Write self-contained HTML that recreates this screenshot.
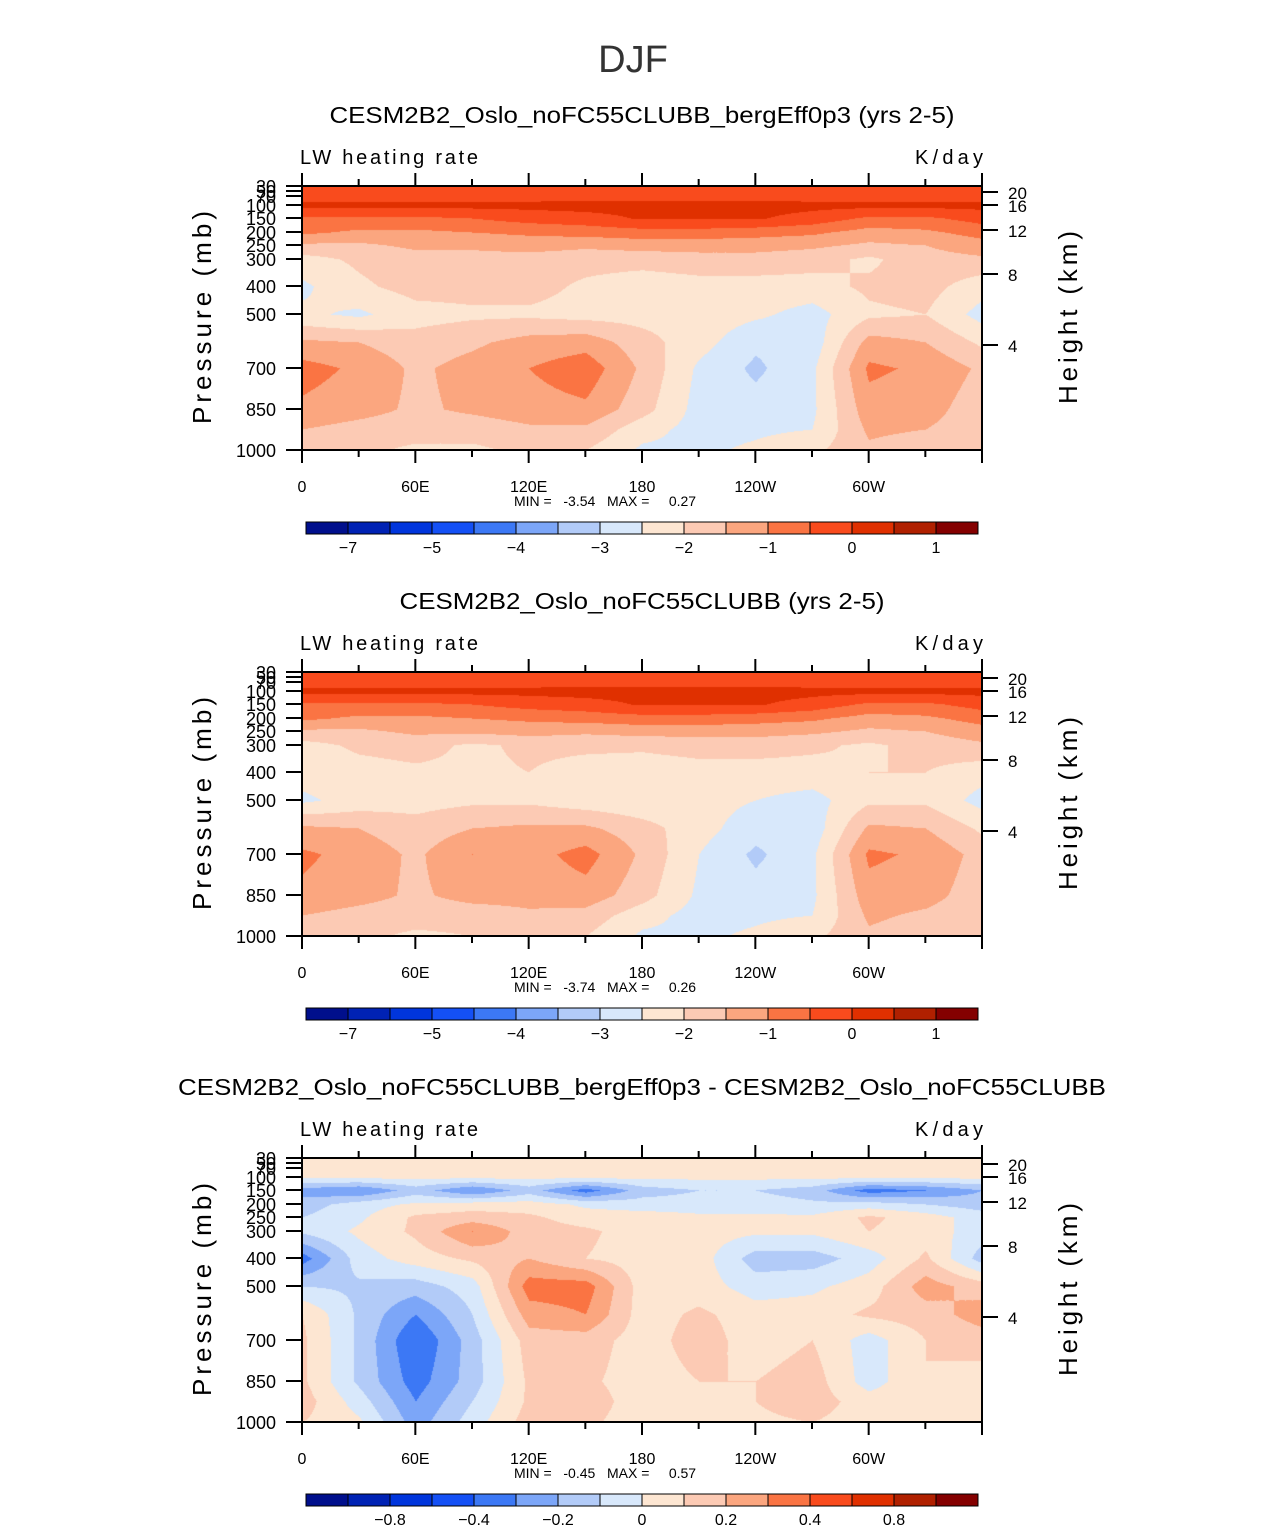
<!DOCTYPE html>
<html><head><meta charset="utf-8">
<style>
body{margin:0;background:#fff;width:1285px;height:1531px;position:relative;overflow:hidden;font-family:"Liberation Sans",sans-serif}
canvas{position:absolute}
svg{position:absolute;left:0;top:0}
</style></head>
<body>
<canvas id="c0" width="680" height="264" style="left:302px;top:186px"></canvas>
<canvas id="c1" width="680" height="264" style="left:302px;top:672px"></canvas>
<canvas id="c2" width="680" height="264" style="left:302px;top:1158px"></canvas>
<svg id="ov" width="1285" height="1531"></svg>
<script>
const lons=[0,30,60,90,120,150,180,210,240,270,300,330,360];
const plevs=[30,50,70,100,150,200,250,300,400,500,600,700,850,925,1000];
const pTicks=[30,50,70,100,150,200,250,300,400,500,700,850,1000];
const hTicks=[20,16,12,8,4];
const xTickLabels=["0","60E","120E","180","120W","60W"];
const levelsAbs=[-7,-6,-5,-4.5,-4,-3.5,-3,-2.5,-2,-1.5,-1,-0.5,0,0.5,1];
const levelsDiff=[-1,-0.8,-0.6,-0.4,-0.3,-0.2,-0.1,0,0.1,0.2,0.3,0.4,0.6,0.8,1];
const cbLabelsAbs=["-7","-5","-4","-3","-2","-1","0","1"];
const cbLabelsDiff=["-0.8","-0.4","-0.2","0","0.2","0.4","0.8"];
const titles=["CESM2B2_Oslo_noFC55CLUBB_bergEff0p3 (yrs 2-5)","CESM2B2_Oslo_noFC55CLUBB (yrs 2-5)","CESM2B2_Oslo_noFC55CLUBB_bergEff0p3 - CESM2B2_Oslo_noFC55CLUBB"];
const titleWidths=[625,485,928];
const minVals=["-3.54","-3.74","-0.45"];
const maxVals=["0.27","0.26","0.57"];
const field1=[
[-0.3,-0.3,-0.3,-0.3,-0.3,-0.3,-0.3,-0.3,-0.3,-0.3,-0.3,-0.3,-0.3],
[-0.3,-0.3,-0.3,-0.3,-0.3,-0.3,-0.3,-0.3,-0.3,-0.3,-0.3,-0.3,-0.3],
[-0.2,-0.2,-0.2,-0.2,-0.2,-0.2,-0.2,-0.2,-0.2,-0.2,-0.2,-0.2,-0.2],
[0.15,0.15,0.15,0.15,0.15,0.2,0.2,0.2,0.2,0.15,0.15,0.15,0.15],
[-0.6,-0.6,-0.6,-0.5,-0.3,-0.2,0.05,0.05,0.05,-0.2,-0.6,-0.6,-0.3],
[-0.9,-1.1,-1.1,-1.0,-0.9,-0.8,-0.7,-0.7,-0.8,-0.9,-1.2,-1.1,-0.8],
[-1.6,-1.6,-1.4,-1.4,-1.3,-1.4,-1.3,-1.3,-1.3,-1.4,-1.6,-1.5,-1.2],
[-2.2,-1.9,-1.7,-1.7,-1.7,-1.8,-1.8,-1.7,-1.7,-1.8,-2.1,-1.7,-1.6],
[-2.6,-2.1,-1.8,-1.8,-1.8,-2.1,-2.3,-2.2,-2.2,-2.2,-1.9,-1.8,-2.3],
[-2.4,-2.6,-2.2,-2.1,-2.1,-2.2,-2.2,-2.2,-2.4,-2.7,-2.1,-2.0,-2.7],
[-1.4,-1.5,-1.8,-1.6,-1.3,-1.2,-1.8,-2.3,-2.9,-2.8,-1.3,-1.5,-2.1],
[-0.8,-1.1,-1.6,-1.3,-1.0,-0.7,-1.6,-2.6,-3.1,-2.6,-0.9,-1.1,-1.6],
[-1.1,-1.3,-1.6,-1.4,-1.2,-1.1,-1.8,-2.7,-2.8,-2.6,-1.2,-1.3,-1.8],
[-1.5,-1.7,-1.8,-1.8,-1.6,-1.6,-2.3,-2.7,-2.6,-2.5,-1.4,-1.5,-1.8],
[-1.8,-1.9,-2.1,-2.1,-1.9,-2.0,-2.6,-2.6,-2.4,-2.1,-1.6,-1.8,-2.0]];
const field2=[
[-0.3,-0.3,-0.3,-0.3,-0.3,-0.3,-0.3,-0.3,-0.3,-0.3,-0.3,-0.3,-0.3],
[-0.3,-0.3,-0.3,-0.3,-0.3,-0.3,-0.3,-0.3,-0.3,-0.3,-0.3,-0.3,-0.3],
[-0.2,-0.2,-0.2,-0.2,-0.2,-0.2,-0.2,-0.2,-0.2,-0.2,-0.2,-0.2,-0.2],
[0.15,0.15,0.15,0.15,0.15,0.2,0.2,0.2,0.2,0.15,0.15,0.15,0.15],
[-0.6,-0.6,-0.6,-0.5,-0.3,-0.2,0.05,0.05,0.05,-0.2,-0.6,-0.6,-0.3],
[-0.9,-1.1,-1.1,-1.0,-0.9,-0.8,-0.7,-0.7,-0.8,-0.9,-1.2,-1.1,-0.8],
[-1.6,-1.6,-1.4,-1.4,-1.3,-1.4,-1.3,-1.3,-1.3,-1.4,-1.6,-1.5,-1.2],
[-2.2,-1.9,-1.8,-2.1,-1.9,-1.9,-1.9,-1.8,-1.8,-1.9,-2.1,-1.8,-1.6],
[-2.3,-2.2,-2.1,-2.1,-2.0,-2.2,-2.3,-2.2,-2.2,-2.2,-2.0,-2.0,-2.3],
[-2.6,-2.3,-2.2,-2.1,-2.1,-2.3,-2.4,-2.3,-2.5,-2.7,-2.1,-2.1,-2.7],
[-1.4,-1.5,-1.8,-1.5,-1.4,-1.4,-1.8,-2.3,-2.8,-2.8,-1.4,-1.5,-2.1],
[-0.9,-1.2,-1.6,-1.0,-1.2,-0.8,-1.6,-2.5,-3.1,-2.6,-0.9,-1.1,-1.7],
[-1.1,-1.3,-1.6,-1.3,-1.3,-1.2,-1.8,-2.6,-2.8,-2.6,-1.2,-1.3,-1.8],
[-1.5,-1.7,-1.8,-1.8,-1.6,-1.7,-2.3,-2.7,-2.6,-2.5,-1.4,-1.6,-1.9],
[-1.8,-1.9,-2.1,-2.0,-1.9,-2.0,-2.6,-2.6,-2.4,-2.1,-1.6,-1.8,-2.0]];
const field3=[
[0.05,0.05,0.05,0.05,0.05,0.05,0.05,0.05,0.05,0.05,0.05,0.05,0.05],
[0.05,0.05,0.05,0.05,0.05,0.05,0.05,0.05,0.05,0.05,0.05,0.05,0.05],
[0.05,0.05,0.05,0.05,0.05,0.05,0.05,0.05,0.05,0.05,0.05,0.05,0.05],
[0.02,0.02,0.02,0.02,0.02,0.02,0.02,0.02,0.02,0.02,0.02,0.02,0.02],
[-0.25,-0.3,-0.15,-0.3,-0.15,-0.35,-0.15,-0.1,-0.1,-0.15,-0.35,-0.3,-0.2],
[-0.15,-0.05,0.02,0.05,0.05,-0.02,-0.05,-0.05,-0.05,-0.08,-0.05,-0.1,-0.15],
[-0.1,-0.02,0.12,0.15,0.12,0.05,0.05,0.02,0.02,0.02,0.12,0.05,-0.05],
[-0.08,0.02,0.12,0.3,0.15,0.12,0.05,0.05,0.02,0.02,0.1,0.05,-0.05],
[-0.35,-0.05,0.05,0.12,0.2,0.1,0.05,0.05,-0.15,-0.15,-0.05,0.12,-0.15],
[-0.1,-0.12,-0.15,-0.05,0.35,0.35,0.05,0.05,-0.05,-0.02,0.05,0.25,0.15],
[0.1,-0.12,-0.3,-0.1,0.25,0.3,0.05,0.12,0.05,0.05,0.12,0.15,0.25],
[0.12,-0.12,-0.4,-0.15,0.15,0.15,0.05,0.15,0.05,0.1,-0.05,0.1,0.15],
[0.12,-0.12,-0.35,-0.15,0.12,0.12,0.05,0.1,0.1,0.15,-0.05,0.1,0.05],
[0.15,-0.05,-0.3,-0.1,0.12,0.15,0.05,0.08,0.1,0.15,0.05,0.1,0.05],
[0.1,0.02,-0.25,-0.05,0.15,0.12,0.05,0.05,0.08,0.1,0.05,0.1,0.1]];

const colors=["#000f8c","#0022b4","#0035dc","#1450f5","#3c78f5","#7ca6f8","#b2cbf8","#d8e8fb","#fde6d2","#fccab4","#fba67f","#fa7443","#f94b1d","#e03000","#b02000","#840000"];
const PW=680,PH=264;
function xOf(lon){return lon/360*PW;}
const pKnown=[[30,0],[50,5],[70,10],[100,19],[150,32],[200,46],[250,59],[300,73],[400,100],[500,128],[600,156],[700,182],[850,223],[925,243],[1000,264]];
function yOf(p){for(let i=0;i<pKnown.length-1;i++){const a=pKnown[i],b=pKnown[i+1];if(p<=b[0])return a[1]+(p-a[0])/(b[0]-a[0])*(b[1]-a[1]);}return PH;}
const hKnown=[[20,6],[16,19],[12,44],[8,88],[4,159],[0,264]];
function yOfH(h){for(let i=0;i<hKnown.length-1;i++){const a=hKnown[i],b=hKnown[i+1];if(h>=b[0])return a[1]+(a[0]-h)/(a[0]-b[0])*(b[1]-a[1]);}return PH;}
function hex(c){return [parseInt(c.slice(1,3),16),parseInt(c.slice(3,5),16),parseInt(c.slice(5,7),16)];}
const rgb=colors.map(hex);
function cls(v,lev){let k=0;while(k<lev.length&&v>=lev[k])k++;return k;}
function draw(id,field,lev){
  const cv=document.getElementById(id),ctx=cv.getContext('2d');
  const img=ctx.createImageData(PW,PH);
  const ys=plevs.map(yOf),xs=lons.map(xOf);
  for(let py=0;py<PH;py++){
    let r=0;while(r<ys.length-2&&py>ys[r+1])r++;
    const ty=Math.min(1,Math.max(0,(py-ys[r])/(ys[r+1]-ys[r])));
    for(let px=0;px<PW;px++){
      let c=0;while(c<xs.length-2&&px>xs[c+1])c++;
      const tx=(px-xs[c])/(xs[c+1]-xs[c]);
      const v=(field[r][c]*(1-tx)+field[r][c+1]*tx)*(1-ty)+(field[r+1][c]*(1-tx)+field[r+1][c+1]*tx)*ty;
      const col=rgb[cls(v,lev)];const o=(py*PW+px)*4;
      img.data[o]=col[0];img.data[o+1]=col[1];img.data[o+2]=col[2];img.data[o+3]=255;
    }
  }
  ctx.putImageData(img,0,0);
}
draw('c0',field1,levelsAbs);draw('c1',field2,levelsAbs);draw('c2',field3,levelsDiff);

const NS="http://www.w3.org/2000/svg",ov=document.getElementById('ov');
function el(tag,attrs,txt){const e=document.createElementNS(NS,tag);for(const k in attrs)e.setAttribute(k,attrs[k]);if(txt!=null)e.textContent=txt;ov.appendChild(e);return e;}
const t0=el('text',{x:633,y:72,'font-size':38,'text-anchor':'middle',fill:'#333'},'DJF');


const tops=[186,672,1158];
for(let i=0;i<3;i++){
  const T=tops[i],L=302;
  const ti=el('text',{x:642,y:T-63,'font-size':23,'text-anchor':'middle',fill:'#000',textLength:titleWidths[i],lengthAdjust:'spacingAndGlyphs'},titles[i]);
  
  
  const lw=el('text',{x:300,y:T-22,'font-size':20,fill:'#000',textLength:178,lengthAdjust:'spacing'},'LW heating rate');
  
  
  const un=el('text',{x:915,y:T-22,'font-size':20,fill:'#000',textLength:68,lengthAdjust:'spacing'},'K/day');
  
  
  const fr=el('rect',{x:L,y:T,width:PW,height:PH,fill:'none',stroke:'#000','stroke-width':2});
  
  
  for(let lon=0;lon<=360;lon+=30){
    const x=L+xOf(lon),major=lon%60===0,len=major?13:7;
    el('line',{x1:x,y1:T+PH,x2:x,y2:T+PH+len,stroke:'#000','stroke-width':2});
    el('line',{x1:x,y1:T,x2:x,y2:T-len,stroke:'#000','stroke-width':2});
    if(major&&lon<360){const tl=el('text',{x:x,y:T+PH+42,'font-size':16,'text-anchor':'middle'},xTickLabels[lon/60]);
      
      }
  }
  pTicks.forEach(p=>{const y=T+yOf(p);el('line',{x1:L-16,y1:y,x2:L,y2:y,stroke:'#000','stroke-width':2});
    const tl=el('text',{x:L-26,y:y+7,'font-size':18,'text-anchor':'end'},String(p));
    
    });
  hTicks.forEach(h=>{const y=T+yOfH(h);el('line',{x1:L+PW,y1:y,x2:L+PW+16,y2:y,stroke:'#000','stroke-width':2});
    const tl=el('text',{x:L+PW+26,y:y+7,'font-size':17},String(h));
    
    });
  const yl=el('text',{x:-106,y:0,'font-size':26,textLength:213,lengthAdjust:'spacing',transform:`translate(211,${T+132}) rotate(-90)`},'Pressure (mb)');
  
  
  const hl=el('text',{x:-86,y:0,'font-size':26,textLength:173,lengthAdjust:'spacing',transform:`translate(1077,${T+132}) rotate(-90)`},'Height (km)');
  
  
  const mm=el('text',{x:514,y:T+PH+56,'font-size':14},`MIN =   ${minVals[i]}   MAX =     ${maxVals[i]}`);
  mm.setAttribute('xml:space','preserve');mm.style.whiteSpace='pre';
  
  
  const cy=T+PH+72;
  for(let k=0;k<16;k++){
    const b=el('rect',{x:306+42*k,y:cy,width:42,height:12,fill:colors[k],stroke:'#000','stroke-width':1});
    
    
  }
  const labs=i<2?cbLabelsAbs:cbLabelsDiff;
  const bnd=i<2?[0,2,4,6,8,10,12,14]:[1,3,5,7,9,11,13];
  labs.forEach((s,j)=>{const x=348+42*bnd[j];const tl=el('text',{x:x,y:cy+31,'font-size':16,'text-anchor':'middle'},s.replace('-','\u2212'));
    
    });
}
</script>
</body></html>
